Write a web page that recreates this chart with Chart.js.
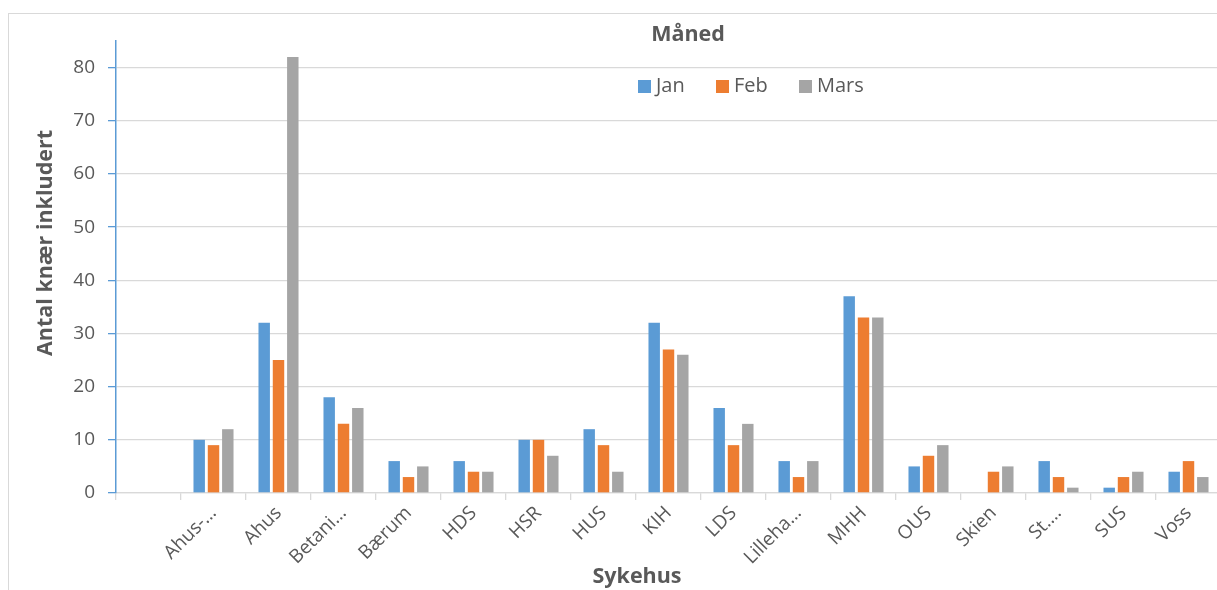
<!DOCTYPE html>
<html>
<head>
<meta charset="utf-8">
<script src="https://cdn.jsdelivr.net/npm/chart.js@4"></script>
<style>
  html, body { margin: 0; padding: 0; background: #fff; overflow: hidden; width: 1217px; height: 590px; }
  #wrap { position: absolute; left: 0; top: 0; width: 1217px; height: 590px; overflow: hidden; }
  #frame { position: absolute; left: 8px; top: 13px; width: 1300px; height: 700px; border: 1px solid #D9D9D9; box-sizing: border-box; }
  canvas { position: absolute; left: 0; top: 0; }
</style>
</head>
<body>
<div id="wrap">
  <div id="frame"></div>
  <canvas id="c" width="1221" height="590"></canvas>
</div>
<script>
const categories = ["", "Ahus-…", "Ahus", "Betani…", "Bærum", "HDS", "HSR", "HUS", "KIH", "LDS", "Lilleha…", "MHH", "OUS", "Skien", "St.…", "SUS", "Voss"];
const seriesNames = ["Jan", "Feb", "Mars"];
const janValues  = [null, 10, 32, 18, 6, 6, 10, 12, 32, 16, 6, 37, 5, null, 6, 1, 4];
const febValues  = [null, 9, 25, 13, 3, 4, 10, 9, 27, 9, 3, 33, 7, 4, 3, 3, 6];
const marsValues = [null, 12, 82, 16, 5, 4, 7, 4, 26, 13, 6, 33, 9, 5, 1, 4, 3];
const yTicks = [0, 10, 20, 30, 40, 50, 60, 70, 80];
const yTitle = "Antal knær inkludert";
const xTitle = "Sykehus";
const legendTitle = "Måned";

const colors = ["#5B9BD5", "#ED7D31", "#A5A5A5"];
const FONT = "'Open Sans', sans-serif";
const TXT = "#595959";

const overlay = {
  id: 'overlay',
  afterDraw(chart) {
    const ctx = chart.ctx;
    ctx.save();
    ctx.fillStyle = TXT;
    ctx.font = "bold 21.5px " + FONT;
    ctx.textAlign = "center";
    ctx.textBaseline = "middle";
    ctx.save();
    ctx.translate(46, 243);
    ctx.rotate(-Math.PI / 2);
    ctx.fillText(yTitle, 0, 0);
    ctx.restore();
    ctx.fillText(xTitle, 637, 577);
    ctx.fillText(legendTitle, 688, 35);
    ctx.font = "20px " + FONT;
    ctx.textAlign = "left";
    const xs = [638, 716, 799];
    chart.data.datasets.forEach((ds, i) => {
      ctx.fillStyle = ds.backgroundColor;
      ctx.fillRect(xs[i], 80, 13, 13);
      ctx.fillStyle = TXT;
      ctx.fillText(ds.label, xs[i] + 18, 86.5);
    });
    ctx.restore();
  }
};

new Chart(document.getElementById('c'), {
  type: 'bar',
  data: {
    labels: categories,
    datasets: [
      { label: seriesNames[0], data: janValues, backgroundColor: colors[0] },
      { label: seriesNames[1], data: febValues, backgroundColor: colors[1] },
      { label: seriesNames[2], data: marsValues, backgroundColor: colors[2] }
    ]
  },
  options: {
    responsive: false,
    animation: false,
    devicePixelRatio: 1,
    layout: { padding: { left: 0, top: 41, right: 0, bottom: 0 } },
    datasets: { bar: { categoryPercentage: 0.66, barPercentage: 0.8 } },
    plugins: { legend: { display: false }, title: { display: false }, tooltip: { enabled: false } },
    scales: {
      x: {
        offset: true,
        grid: { display: true, drawOnChartArea: false, drawTicks: true, tickLength: 7, color: "#D9D9D9", lineWidth: 1.3, offset: true },
        border: { display: true, color: "#D9D9D9", width: 1.3 },
        ticks: { color: TXT, font: { family: FONT, size: 19 }, minRotation: 45, maxRotation: 45, autoSkip: false, padding: 2 },
        afterFit(scale) { scale.height = 97; }
      },
      y: {
        min: 0,
        max: 85,
        afterBuildTicks(scale) { scale.ticks = yTicks.map(v => ({ value: v })); },
        grid: { color: "#D9D9D9", lineWidth: 1.3, drawTicks: true, tickLength: 8, tickColor: "#5B9BD5" },
        border: { display: true, color: "#5B9BD5", width: 1.5 },
        ticks: { color: TXT, font: { family: FONT, size: 19 }, padding: 13 },
        afterFit(scale) { scale.width = 116; }
      }
    }
  },
  plugins: [overlay]
});
</script>
</body>
</html>
